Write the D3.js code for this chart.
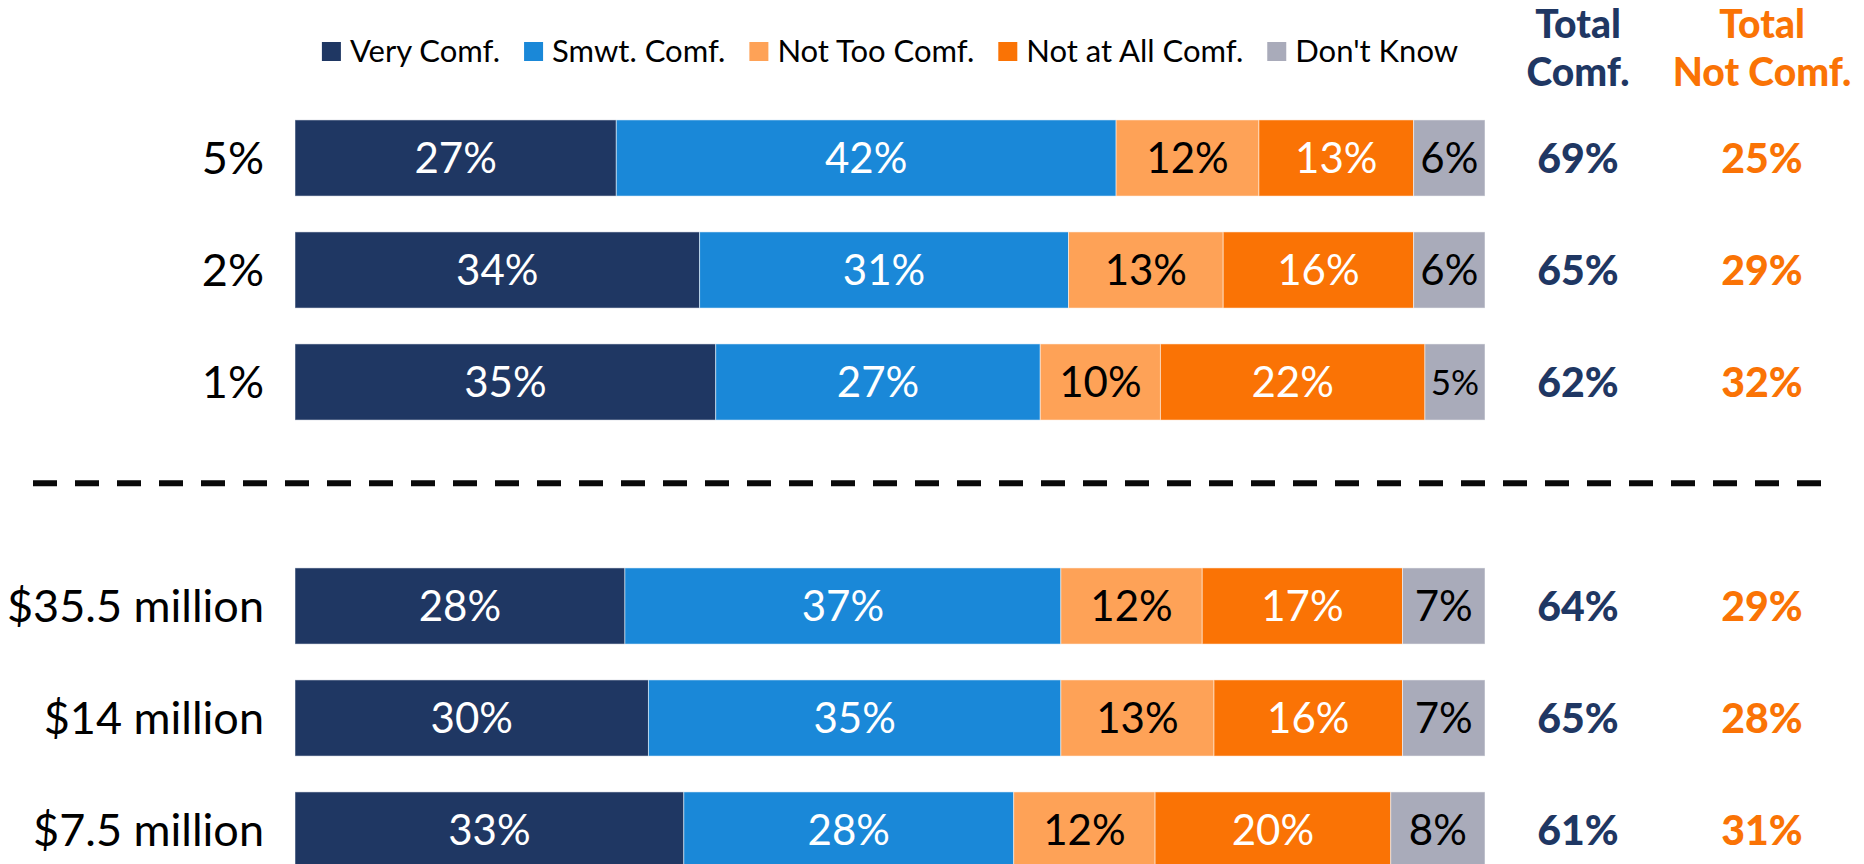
<!DOCTYPE html>
<html>
<head>
<meta charset="utf-8">
<script src="https://cdn.jsdelivr.net/npm/d3@7"></script>
<style>
  body { margin: 0; background: #fff; }
  svg { display: block; font-family: Lato, "Open Sans", sans-serif; }
</style>
</head>
<body>
<script>
// data
const categories = ["5%", "2%", "1%", "$35.5 million", "$14 million", "$7.5 million"];
const seriesNames = ["Very Comf.", "Smwt. Comf.", "Not Too Comf.", "Not at All Comf.", "Don't Know"];
const veryComf = [27, 34, 35, 28, 30, 33];
const smwtComf = [42, 31, 27, 37, 35, 28];
const notTooComf = [12, 13, 10, 12, 13, 12];
const notAtAllComf = [13, 16, 22, 17, 16, 20];
const dontKnow = [6, 6, 5, 7, 7, 8];
const totalComf = [69, 65, 62, 64, 65, 61];
const totalNotComf = [25, 29, 32, 29, 28, 31];

const colors = ["#1f3763", "#1a88d8", "#fea257", "#fa7305", "#a9abba"];
const labelColors = ["#fff", "#fff", "#000", "#fff", "#000"];
const navy = "#1f3763", orange = "#fa7305";

var width = 1864, height = 864;
var svg = d3.select("body").append("svg")
    .attr("width", width)
    .attr("height", height);

// table for the stack
var cols = [veryComf, smwtComf, notTooComf, notAtAllComf, dontKnow];
var table = categories.map(function(c, i) {
    var row = {cat: c};
    seriesNames.forEach(function(s, j) { row[s] = cols[j][i]; });
    return row;
});

var stack = d3.stack().keys(seriesNames).offset(d3.stackOffsetExpand);
var stacked = stack(table);

// gap slot holds the dashed divider
var slots = ["5%", "2%", "1%", "gap", "$35.5 million", "$14 million", "$7.5 million"];
var y = d3.scaleBand().domain(slots).range([102, 886]).paddingInner(0.32).paddingOuter(0.16);
var x = d3.scaleLinear().domain([0, 1]).range([295, 1485]);

// bars
var layer = svg.append("g").selectAll("g")
    .data(stacked)
    .join("g")
    .attr("fill", (d, i) => colors[i]);

layer.selectAll("rect")
    .data(d => d)
    .join("rect")
    .attr("x", d => x(d[0]))
    .attr("y", d => y(d.data.cat))
    .attr("width", d => x(d[1]) - x(d[0]))
    .attr("height", y.bandwidth())
    .attr("stroke", "#ffffff")
    .attr("stroke-opacity", 0.5)
    .attr("stroke-width", 1);

// segment labels
stacked.forEach(function(s, i) {
    svg.append("g").selectAll("text")
        .data(s)
        .join("text")
        .attr("x", d => (x(d[0]) + x(d[1])) / 2)
        .attr("y", d => y(d.data.cat) + y.bandwidth() / 2)
        .attr("dy", "0.36em")
        .attr("text-anchor", "middle")
        .attr("fill", labelColors[i])
        .style("font-size", "42px")
        .text(d => d.data[s.key] + "%")
        .each(function(d) {
            var w = x(d[1]) - x(d[0]);
            var tw = this.getComputedTextLength();
            if (tw > w - 8) d3.select(this).style("font-size", "35px");
        });
});

// category labels
svg.append("g").selectAll("text")
    .data(categories)
    .join("text")
    .attr("x", 264)
    .attr("y", d => y(d) + y.bandwidth() / 2)
    .attr("dy", "0.36em")
    .attr("text-anchor", "end")
    .attr("fill", "#000")
    .style("font-size", "45px")
    .text(d => d);

// dashed divider
svg.append("line")
    .attr("x1", 33).attr("x2", 1825)
    .attr("y1", y("gap") + y.bandwidth() * 0.36)
    .attr("y2", y("gap") + y.bandwidth() * 0.36)
    .attr("stroke", "#0a0a0a")
    .attr("stroke-width", 6)
    .attr("stroke-dasharray", "24 18");

// total columns
var totCols = [
    {x: 1578, color: navy, head: ["Total", "Comf."], vals: totalComf},
    {x: 1762, color: orange, head: ["Total", "Not Comf."], vals: totalNotComf}
];
totCols.forEach(function(t) {
    svg.append("g").selectAll("text")
        .data(t.vals)
        .join("text")
        .attr("x", t.x)
        .attr("y", (d, i) => y(categories[i]) + y.bandwidth() / 2)
        .attr("dy", "0.36em")
        .attr("text-anchor", "middle")
        .attr("fill", t.color)
        .style("font-size", "41px")
        .style("font-weight", "900")
        .text(d => d + "%");
    svg.append("g").selectAll("text")
        .data(t.head)
        .join("text")
        .attr("x", t.x)
        .attr("y", (d, i) => 38 + i * 48)
        .attr("text-anchor", "middle")
        .attr("fill", t.color)
        .style("font-size", "39px")
        .style("font-weight", "900")
        .text(d => d);
});

// legend, laid out by text width and centred
var legend = svg.append("g");
var items = legend.selectAll("g")
    .data(seriesNames)
    .join("g");
items.append("rect")
    .attr("width", 19).attr("height", 19)
    .attr("y", 42)
    .attr("fill", (d, i) => colors[i]);
items.append("text")
    .attr("x", 28)
    .attr("y", 62)
    .style("font-size", "31px")
    .attr("fill", "#000")
    .text(d => d);
var pos = 0;
items.each(function() {
    d3.select(this).attr("transform", "translate(" + pos + ",0)");
    pos += 28 + d3.select(this).select("text").node().getComputedTextLength() + 24;
});
var total = pos - 24;
legend.attr("transform", "translate(" + (890 - total / 2) + ",0)");
</script>
</body>
</html>
